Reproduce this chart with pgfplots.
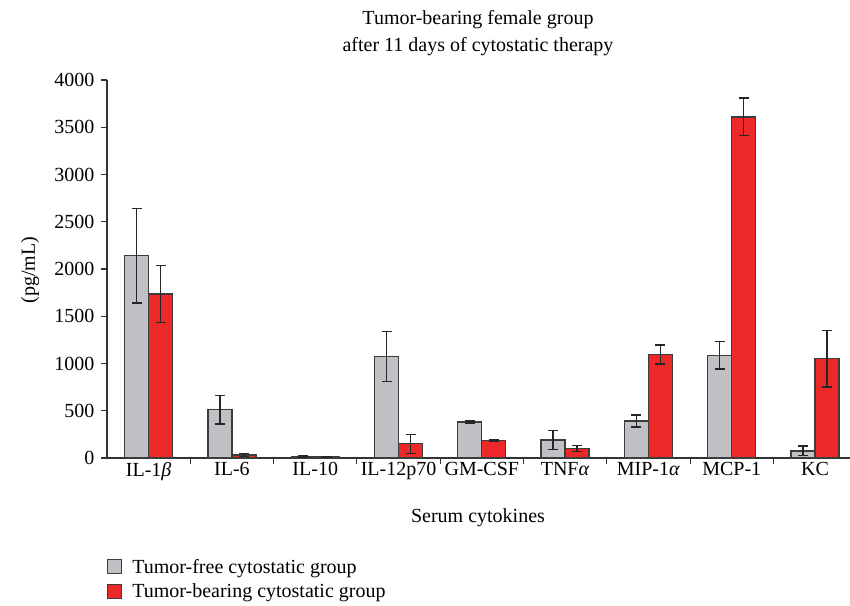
\documentclass[border=0pt]{standalone}
\usepackage{pgfplots}
\pgfplotsset{compat=1.18}
\usepackage{fontspec}
\setmainfont{Liberation Serif}
\definecolor{gbar}{RGB}{192,193,197}
\definecolor{rbar}{RGB}{236,40,41}
\definecolor{edge}{RGB}{60,60,60}
\newcommand{\fs}{\fontsize{20}{26}\selectfont}
\begin{document}
\begin{tikzpicture}[x=1pt,y=1pt]
\begin{axis}[
  name=ax,
  scale only axis, width=743pt, height=378pt,
  xmin=-0.5, xmax=8.42, ymin=0, ymax=4000,
  axis x line*=bottom, axis y line*=left,
  axis line style={line width=1.1pt, color=black!80},
  tick style={line width=1.1pt, color=black!80},
  tick align=outside, major tick length=6pt,
  ytick={0,500,...,4000},
  /pgf/number format/1000 sep={},
  /pgf/number format/assume math mode=true,
  xtick={0.5,1.5,...,7.5}, xticklabels={},
  extra x ticks={0,1,2,3,4,5,6,7,8},
  extra x tick labels={IL-1\textit{β},IL-6,IL-10,IL-12p70,GM-CSF,TNF\textit{α},MIP-1\textit{α},MCP-1,KC},
  extra x tick style={major tick length=0pt},
  tick label style={font=\fs},
  yticklabel style={xshift=-3pt},
  xticklabel style={yshift=-1pt},
  ybar=0pt, bar width=24pt,
  legend style={draw=none, fill=none, at={(0,-0.32)}, anchor=west, inner sep=0pt,
    font=\fs, row sep=5pt, column sep=8pt},
  legend cell align=left,
]
\coordinate (O) at (rel axis cs:0,0);
\addplot[fill=gbar, draw=edge, line width=1.3pt,
  legend image code/.code={\draw[fill=gbar,draw=edge,line width=1.1pt] (0pt,-7pt) rectangle (14pt,7pt);},
  error bars/.cd, y dir=both, y explicit,
  error bar style={line width=1.4pt, color=black!85},
  error mark options={rotate=90, mark size=5pt, line width=1.4pt, color=black!85}]
  table[x=x, y=y, y error=e] {
x y e
0 2140 500
1 510 150
2 15 8
3 1075 265
4 380 10
5 190 100
6 390 63
7 1085 145
8 75 50
};
\addlegendentry{Tumor-free cytostatic group}
\addplot[fill=rbar, draw=edge, line width=1.3pt,
  legend image code/.code={\draw[fill=rbar,draw=edge,line width=1.1pt] (0pt,-7pt) rectangle (14pt,7pt);},
  error bars/.cd, y dir=both, y explicit,
  error bar style={line width=1.4pt, color=black!85},
  error mark options={rotate=90, mark size=5pt, line width=1.4pt, color=black!85}]
  table[x=x, y=y, y error=e] {
x y e
0 1735 300
1 32 15
2 12 6
3 150 100
4 187 8
5 100 30
6 1095 100
7 3610 200
8 1050 300
};
\addlegendentry{Tumor-bearing cytostatic group}
\end{axis}
\node[align=center,font=\fontsize{20}{27}\selectfont] at ([shift={(371,425)}]O) {Tumor-bearing female group\\after 11 days of cytostatic therapy};
\node[rotate=90,font=\fs] at ([shift={(-77,188)}]O) {(pg/mL)};
\node[font=\fs] at ([shift={(371,-60)}]O) {Serum cytokines};
\pgfresetboundingbox
\path[use as bounding box] ([shift={(-107,458)}]O) rectangle ([shift={(743,-147)}]O);
\end{tikzpicture}
\end{document}
